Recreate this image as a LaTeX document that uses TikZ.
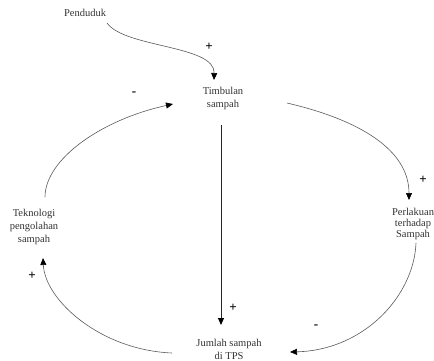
\documentclass[tikz,border=0pt]{standalone}
\usepackage{fontspec}
\setmainfont{Liberation Serif}
\usetikzlibrary{arrows.meta,calc}
\definecolor{txt}{HTML}{333333}
\definecolor{ln}{HTML}{5A5A5A}
\begin{document}
\begin{tikzpicture}[x=1pt,y=-1pt,
  lbl/.style={font=\fontsize{10.5}{13}\selectfont,text=txt,align=center,inner sep=1pt},
  sgn/.style={font=\fontsize{13}{13}\selectfont\bfseries,text=black,inner sep=0pt},
  link/.style={draw=ln,line width=0.6pt,-{Triangle[length=7pt,width=6pt,fill=black,color=black]}},
  mainlink/.style={draw=black!85,line width=1pt,-{Triangle[length=7pt,width=6pt,fill=black,color=black]}}]
\useasboundingbox (0,0) rectangle (434,360);
\node[lbl] (pend) at (85,13) {Penduduk};
\node[lbl] (timb) at (223,98) {Timbulan\\sampah};
\node[lbl] (tek) at (34,227) {Teknologi\\pengolahan\\sampah};
\node[lbl] (jml) at (229,349) {Jumlah sampah\\di TPS};
\node[lbl,font=\fontsize{10.5}{11}\selectfont] (perl) at (413,224) {Perlakuan\\terhadap\\Sampah};
% connectors
\draw[link] ($(pend)+(22,10)$) .. controls +(18,25) and +(1,-35) .. ($(timb)+(-9,-18)$);
\draw[link] ($(tek)+(11,-30)$) .. controls +(0,-37) and +(-73,16) .. ($(timb)+(-50,6)$);
\draw[mainlink] ($(timb)+(-2,27)$) -- ($(jml)+(-8,-24)$);
\draw[link] ($(timb)+(64,5)$) .. controls +(73,17) and +(0,-50) .. ($(perl)+(-4,-24)$);
\draw[link] ($(perl)+(3,19)$) .. controls +(-2,52) and +(75,-2) .. ($(jml)+(61,3)$);
\draw[link] ($(jml)+(-57,4)$) .. controls +(-72,-3) and +(2,42) .. ($(tek)+(9,31)$);
% polarity signs
\node[sgn] (s1) at (209,47) {+};
\node[sgn] (s2) at (134,94) {-};
\node[sgn] (s3) at (233,308) {+};
\node[sgn] (s4) at (423,180) {+};
\node[sgn] (s5) at (316,327) {-};
\node[sgn] (s6) at (32,276) {+};
\end{tikzpicture}
\end{document}
